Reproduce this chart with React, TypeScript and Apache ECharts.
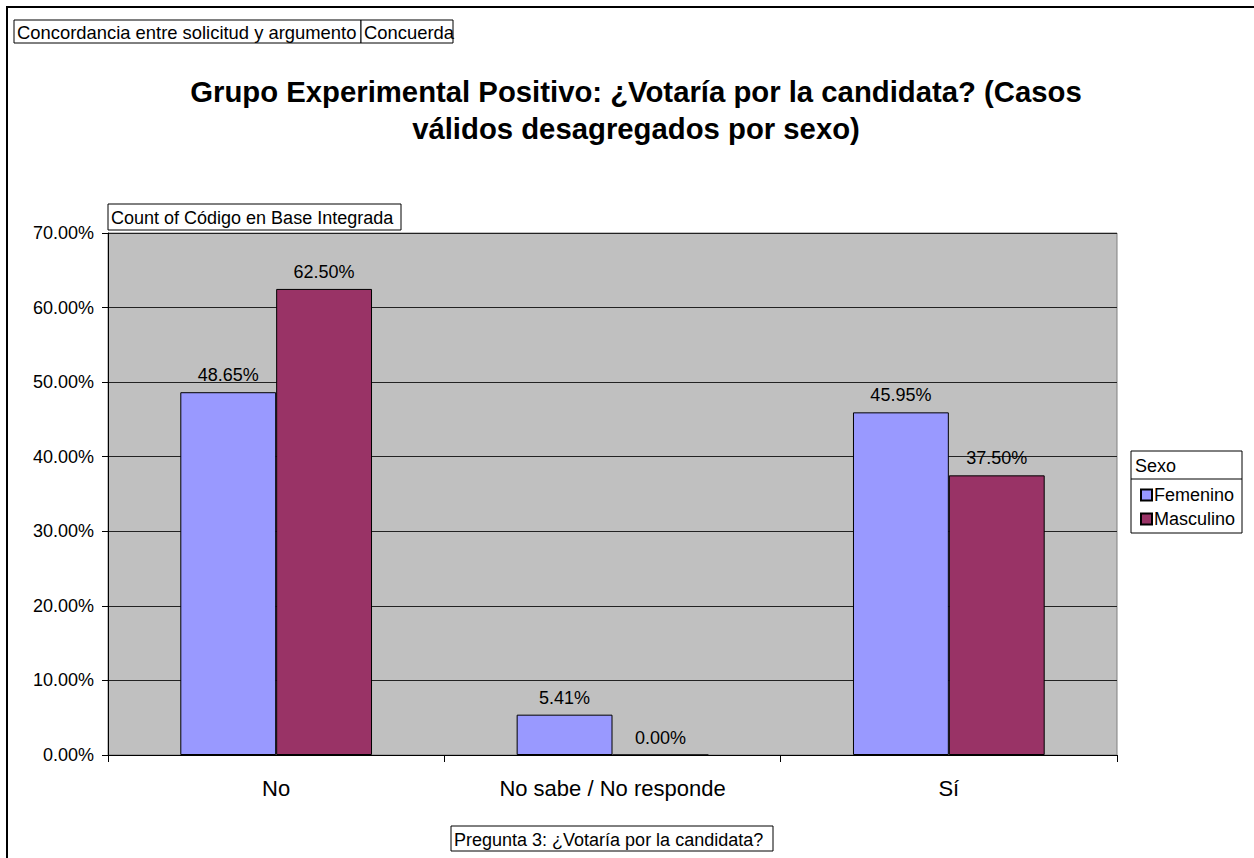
import React, { useEffect, useRef } from "react";
import * as echarts from "echarts";

const categories = ["No", "No sabe / No responde", "Sí"];
const femenino = [48.65, 5.41, 45.95];
const masculino = [62.5, 0.0, 37.5];
const seriesNames = ["Femenino", "Masculino"];
const FONT = "Arial, 'Liberation Sans', sans-serif";

export default function App() {
  const ref = useRef<HTMLDivElement>(null);
  useEffect(() => {
    const chart = echarts.init(ref.current!, undefined, { renderer: "svg" });
    const boxText = (x: number, y: number, w: number, h: number, text: string, size = 18) => ({
      type: "group",
      children: [
        { type: "rect", shape: { x, y, width: w, height: h }, style: { fill: "#fff", stroke: "#000", lineWidth: 1 } },
        { type: "text", x: x + 3, y: y + h / 2 + 1, style: { text, font: `${size}px ${FONT}`, fill: "#000", textVerticalAlign: "middle" } },
      ],
    });
    const label = {
      show: true,
      position: "top",
      distance: 8,
      fontFamily: FONT,
      fontSize: 18,
      color: "#000",
      formatter: (p: any) => p.value.toFixed(2) + "%",
    };
    chart.setOption({
      animation: false,
      backgroundColor: "#fff",
      title: {
        text: "Grupo Experimental Positivo: ¿Votaría por la candidata? (Casos\nválidos desagregados por sexo)",
        left: 631,
        top: 68,
        textAlign: "center",
        textStyle: { fontFamily: FONT, fontSize: 29.3, fontWeight: "bold", color: "#000", lineHeight: 37, align: "center" },
      },
      grid: {
        left: 108,
        top: 233,
        width: 1009,
        height: 522,
        show: true,
        backgroundColor: "#C0C0C0",
        borderColor: "#808080",
        borderWidth: 1,
      },
      legend: {
        orient: "vertical",
        left: 1135,
        top: 481,
        data: seriesNames,
        itemWidth: 11,
        itemHeight: 11,
        itemGap: 6,
        icon: "rect",
        textStyle: { fontFamily: FONT, fontSize: 18, color: "#000", padding: [0, 0, 0, -3] },
      },
      xAxis: {
        type: "category",
        data: categories,
        axisLine: { lineStyle: { color: "#000" } },
        axisTick: { show: true, length: 7, lineStyle: { color: "#000" } },
        axisLabel: { fontFamily: FONT, fontSize: 22, color: "#000", margin: 22 },
      },
      yAxis: {
        type: "value",
        min: 0,
        max: 70,
        interval: 10,
        axisLine: { show: true, lineStyle: { color: "#000" } },
        axisTick: { show: true, length: 6, lineStyle: { color: "#000" } },
        axisLabel: { fontFamily: FONT, fontSize: 18, color: "#000", margin: 14, formatter: (v: number) => v.toFixed(2) + "%" },
        splitLine: { lineStyle: { color: "#222" } },
      },
      series: [
        {
          name: seriesNames[0],
          type: "bar",
          data: femenino,
          barGap: "0%",
          barCategoryGap: "43%",
          itemStyle: { color: "#9999FF", borderColor: "#000", borderWidth: 1 },
          label,
        },
        {
          name: seriesNames[1],
          type: "bar",
          data: masculino,
          itemStyle: { color: "#993366", borderColor: "#000", borderWidth: 1 },
          label,
        },
      ],
      graphic: [
        { type: "rect", shape: { x: 7, y: 7, width: 1300, height: 900 }, style: { fill: "none", stroke: "#000", lineWidth: 2 }, silent: true },
        boxText(14, 20, 347, 23, "Concordancia entre solicitud y argumento", 18.4),
        boxText(361, 20, 92, 23, "Concuerda", 18.4),
        boxText(108, 204, 293, 26, "Count of Código en Base Integrada"),
        boxText(451, 826, 322, 25, "Pregunta 3: ¿Votaría por la candidata?"),
        { type: "rect", shape: { x: 1131, y: 451, width: 111, height: 82 }, style: { fill: "#fff", stroke: "#000", lineWidth: 1 }, z: -1 },
        { type: "line", shape: { x1: 1131, y1: 479, x2: 1242, y2: 479 }, style: { stroke: "#000", lineWidth: 1 } },
        { type: "text", x: 1135, y: 466, style: { text: "Sexo", font: `18px ${FONT}`, fill: "#000", textVerticalAlign: "middle" } },
      ],
    });
    return () => chart.dispose();
  }, []);
  return <div ref={ref} style={{ position: "fixed", left: 0, top: 0, width: 1254, height: 858 }} />;
}
